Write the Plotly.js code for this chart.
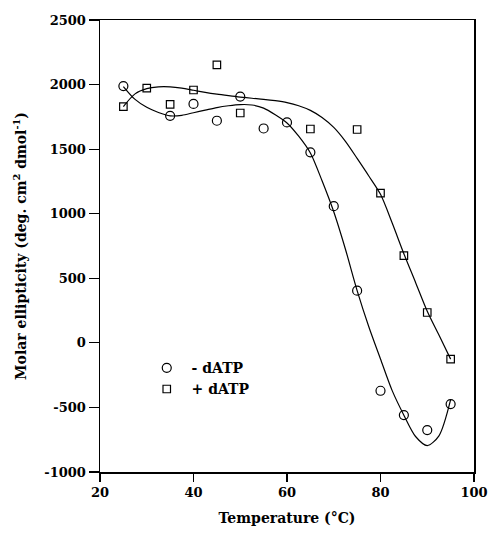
<!DOCTYPE html>
<html>
<head>
<meta charset="utf-8">
<script src="https://cdn.plot.ly/plotly-3.0.1.min.js"></script>
<style>html,body{margin:0;padding:0;background:#fff;}#chart{width:490px;height:542px;}</style>
</head>
<body>
<div id="chart"></div>
<script>
// Measured points: - dATP (circles)
var tempMinus = [25, 35, 40, 45, 50, 55, 60, 65, 70, 75, 80, 85, 90, 95];
var ellMinus  = [1988, 1758, 1850, 1720, 1907, 1660, 1707, 1475, 1058, 404, -371, -559, -675, -474];
// Measured points: + dATP (squares)
var tempPlus = [25, 30, 35, 40, 45, 50, 65, 75, 80, 85, 90, 95];
var ellPlus  = [1830, 1972, 1846, 1958, 2152, 1780, 1656, 1652, 1160, 676, 235, -126];
// Fitted curves
var fitTempMinus = [25, 27.5, 30, 32.5, 35, 37.5, 40, 42.5, 45, 47.5, 50, 52.5, 55, 57.5, 60, 62.5, 65, 67.5, 70, 72.5, 75, 77.5, 80, 82.5, 85, 87.5, 90, 92.5, 95];
var fitEllMinus  = [1985, 1885, 1824, 1784, 1758, 1762, 1782, 1802, 1822, 1836, 1845, 1842, 1818, 1766, 1703, 1600, 1470, 1255, 1015, 725, 405, 125, -125, -370, -560, -725, -795, -720, -440];
var fitTempPlus = [25, 27.5, 30, 32.5, 35, 37.5, 40, 42.5, 45, 47.5, 50, 52.5, 55, 57.5, 60, 62.5, 65, 67.5, 70, 72.5, 75, 77.5, 80, 82.5, 85, 87.5, 90, 92.5, 95];
var fitEllPlus  = [1830, 1928, 1968, 1982, 1982, 1972, 1956, 1940, 1926, 1914, 1903, 1894, 1886, 1875, 1860, 1836, 1800, 1745, 1668, 1560, 1428, 1292, 1150, 928, 690, 468, 245, 60, -126];
// Axis ticks
var xTicks = [20, 40, 60, 80, 100];
var xTickText = ["20", "40", "60", "80", "100"];
var yTicks = [-1000, -500, 0, 500, 1000, 1500, 2000, 2500];
var yTickText = ["-1000", "-500", "0", "500", "1000", "1500", "2000", "2500"];

var FONT = "DejaVu Serif, Liberation Serif, serif";

var traces = [
  {x: fitTempMinus, y: fitEllMinus, mode: "lines", line: {color: "#000", width: 1.2, shape: "spline", smoothing: 0.8}, showlegend: false, hoverinfo: "skip"},
  {x: fitTempPlus, y: fitEllPlus, mode: "lines", line: {color: "#000", width: 1.2, shape: "spline", smoothing: 0.8}, showlegend: false, hoverinfo: "skip"},
  {x: tempMinus, y: ellMinus, mode: "markers", name: " - dATP",
   marker: {symbol: "circle-open", size: 9, color: "#000", line: {width: 1.2, color: "#000"}}},
  {x: tempPlus, y: ellPlus, mode: "markers", name: " + dATP",
   marker: {symbol: "square-open", size: 7.5, color: "#000", line: {width: 1.2, color: "#000"}}}
];

var layout = {
  width: 490, height: 542,
  margin: {l: 100, r: 16, t: 20, b: 70},
  paper_bgcolor: "#fff", plot_bgcolor: "#fff",
  font: {family: FONT, size: 13, color: "#000", weight: "bold"},
  showlegend: true,
  legend: {x: 0.125, y: 0.265, xanchor: "left", yanchor: "top", bgcolor: "rgba(0,0,0,0)",
           font: {family: FONT, size: 14, color: "#000", weight: "bold"}, tracegroupgap: 0},
  xaxis: {
    range: [20, 100], tickvals: xTicks, ticktext: xTickText,
    showgrid: false, zeroline: false, showline: true, linecolor: "#000", linewidth: 1.5, mirror: true,
    ticks: "outside", ticklen: 8, tickwidth: 1.2, tickcolor: "#000",
    tickfont: {family: FONT, size: 13, color: "#000", weight: "bold"},
    title: {text: "Temperature (°C)", font: {family: FONT, size: 14, color: "#000", weight: "bold"}, standoff: 14}
  },
  yaxis: {
    range: [-1000, 2500], tickvals: yTicks, ticktext: yTickText,
    showgrid: false, zeroline: false, showline: true, linecolor: "#000", linewidth: 1.5, mirror: true,
    ticks: "outside", ticklen: 10, tickwidth: 1.2, tickcolor: "#000",
    tickfont: {family: FONT, size: 13, color: "#000", weight: "bold"},
    title: {text: "Molar ellipticity (deg. cm<sup>2</sup> dmol<sup>-1</sup>)", font: {family: FONT, size: 14, color: "#000", weight: "bold"}, standoff: 14}
  }
};

Plotly.newPlot("chart", traces, layout, {displayModeBar: false, staticPlot: true});
</script>
</body>
</html>
